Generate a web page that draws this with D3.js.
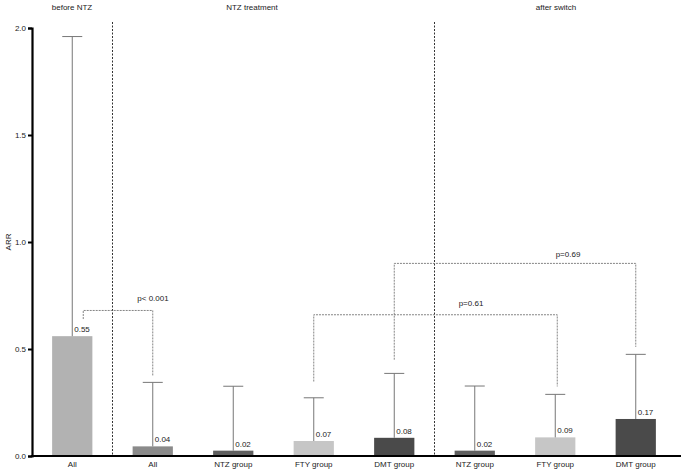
<!DOCTYPE html>
<html><head><meta charset="utf-8">
<script src="https://cdn.jsdelivr.net/npm/d3@7"></script>
<style>body{margin:0;background:#fff}svg{display:block}text{font-family:Arial,"Liberation Sans",sans-serif;fill:#222}</style>
</head><body><svg id="c" width="681" height="471"></svg>
<script>
const categories = ["All","All","NTZ group","FTY group","DMT group","NTZ group","FTY group","DMT group"];
const values = [0.56,0.045,0.025,0.07,0.085,0.025,0.087,0.173];
const valueLabels = ["0.55","0.04","0.02","0.07","0.08","0.02","0.09","0.17"];
const upper = [1.96,0.344,0.326,0.272,0.386,0.327,0.288,0.475];
const colors = ["#b2b2b2","#8a8a8a","#5e5e5e","#c6c6c6","#4a4a4a","#5e5e5e","#c6c6c6","#4a4a4a"];
const yTicks = [0,0.5,1.0,1.5,2.0];
const sections = [{t:"before NTZ",x:72},{t:"NTZ treatment",x:252},{t:"after switch",x:556}];
// brackets: [i, j, bar-end leg value i, leg value j, top value, label]
const brackets = [
  {i:0,j:1,li:0.64,lj:0.375,top:0.68,label:"p< 0.001"},
  {i:3,j:6,li:0.348,lj:0.325,top:0.66,label:"p=0.61"},
  {i:4,j:7,li:0.45,lj:0.51,top:0.90,label:"p=0.69"}
];

const svg = d3.select("#c");
const x = d3.scaleBand().domain(d3.range(categories.length)).range([32,676]).paddingInner(0.5).paddingOuter(0.25);
const y = d3.scaleLinear().domain([0,2]).range([456,28]);
const cx = i => x(i)+x.bandwidth()/2;

// section dividers
[ (cx(0)+cx(1))/2, (cx(4)+cx(5))/2 ].forEach(xx=>{
  svg.append("line").attr("x1",xx).attr("x2",xx).attr("y1",22).attr("y2",456)
    .attr("stroke","#333").attr("stroke-width",1).attr("stroke-dasharray","2,1.5");
});

// bars
svg.selectAll("rect.bar").data(values).join("rect").attr("class","bar")
  .attr("x",(d,i)=>x(i)).attr("width",x.bandwidth())
  .attr("y",d=>y(d)).attr("height",d=>y(0)-y(d)).attr("fill",(d,i)=>colors[i]);

// error bars
values.forEach((v,i)=>{
  const c = cx(i);
  svg.append("line").attr("x1",c).attr("x2",c).attr("y1",y(v)).attr("y2",y(upper[i])).attr("stroke","#777").attr("stroke-width",1);
  svg.append("line").attr("x1",c-10).attr("x2",c+10).attr("y1",y(upper[i])).attr("y2",y(upper[i])).attr("stroke","#777").attr("stroke-width",1);
  svg.append("text").attr("x",c+2).attr("y",y(v)-4).attr("font-size",8).text(valueLabels[i]);
});

// brackets
brackets.forEach(b=>{
  const xi = cx(b.i)+(b.i===0?11:0), xj = cx(b.j)+(b.i===3?2:0);
  const p = d3.path();
  p.moveTo(xi,y(b.li)); p.lineTo(xi,y(b.top)); p.lineTo(xj,y(b.top)); p.lineTo(xj,y(b.lj));
  svg.append("path").attr("d",p.toString()).attr("fill","none").attr("stroke","#666").attr("stroke-width",0.8).attr("stroke-dasharray","2,1");
});
svg.append("text").attr("x",153).attr("y",y(0.68)-9).attr("font-size",8).attr("text-anchor","middle").text(brackets[0].label);
svg.append("text").attr("x",471).attr("y",y(0.66)-9).attr("font-size",8).attr("text-anchor","middle").text(brackets[1].label);
svg.append("text").attr("x",568).attr("y",y(0.90)-6).attr("font-size",8).attr("text-anchor","middle").text(brackets[2].label);

// axes
const ya = svg.append("g").attr("transform","translate(32,0)")
  .call(d3.axisLeft(y).tickValues(yTicks).tickFormat(d3.format(".1f")).tickSize(4).tickPadding(2));
ya.select(".domain").attr("stroke","#000").attr("stroke-width",2.2);
ya.selectAll(".tick line").attr("stroke","#000").attr("stroke-width",2);
ya.selectAll(".tick text").attr("font-size",8).attr("fill","#222").attr("font-family","Arial, 'Liberation Sans', sans-serif");

svg.append("line").attr("x1",31).attr("x2",681).attr("y1",456).attr("y2",456).attr("stroke","#000").attr("stroke-width",2.2);
const xa = svg.append("g").attr("transform","translate(0,457)")
  .call(d3.axisBottom(x).tickSize(0).tickPadding(4).tickFormat(i=>categories[i]));
xa.select(".domain").remove();
xa.selectAll(".tick text").attr("font-size",8).attr("fill","#222").attr("font-family","Arial, 'Liberation Sans', sans-serif");

svg.append("text").attr("transform","translate(11,242) rotate(-90)").attr("text-anchor","middle").attr("font-size",8).text("ARR");

sections.forEach(s=>{
  svg.append("text").attr("x",s.x).attr("y",10).attr("text-anchor","middle").attr("font-size",8).text(s.t);
});
</script></body></html>
